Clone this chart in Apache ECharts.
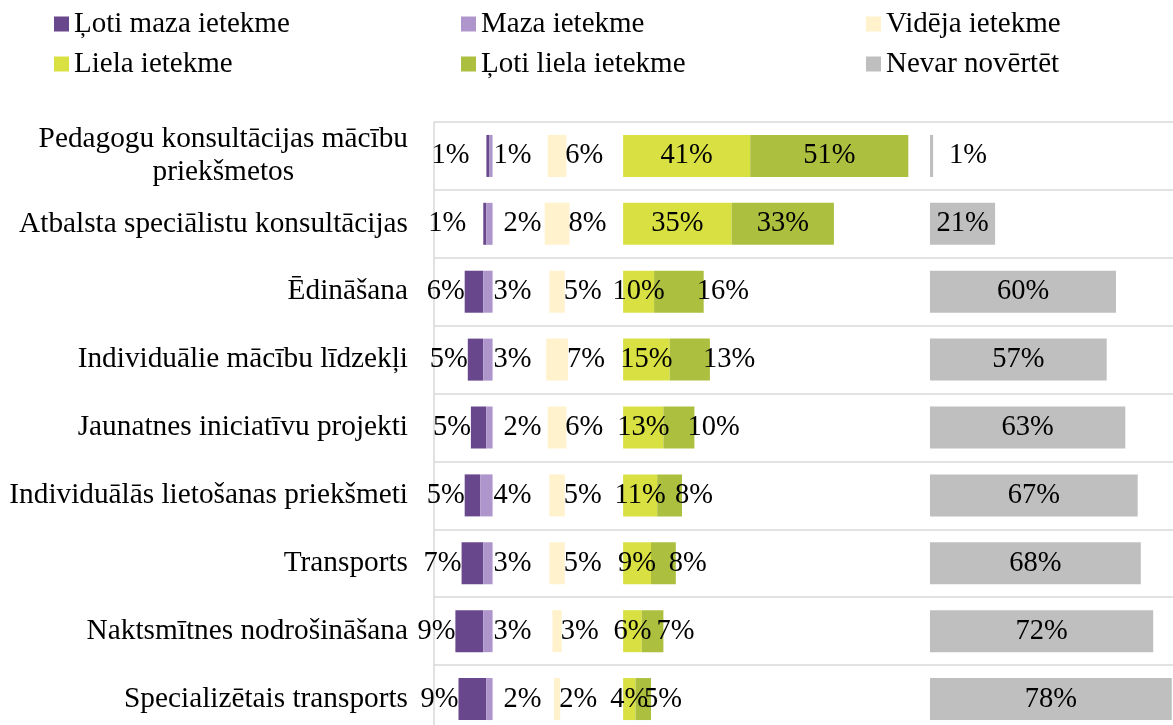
<!DOCTYPE html>
<html>
<head>
<meta charset="utf-8">
<script src="https://cdn.jsdelivr.net/npm/echarts@6/dist/echarts.min.js"></script>
<style>
  html, body { margin: 0; padding: 0; background: #fff; }
  #chart { width: 1173px; height: 725px; }
</style>
</head>
<body>
<div id="chart"></div>
<script>
// ---- Data ----
const categories = [
  'Pedagogu konsultācijas mācību\npriekšmetos',
  'Atbalsta speciālistu konsultācijas',
  'Ēdināšana',
  'Individuālie mācību līdzekļi',
  'Jaunatnes iniciatīvu projekti',
  'Individuālās lietošanas priekšmeti',
  'Transports',
  'Naktsmītnes nodrošināšana',
  'Specializētais transports'
];
const seriesNames = ['Ļoti maza ietekme', 'Maza ietekme', 'Vidēja ietekme', 'Liela ietekme', 'Ļoti liela ietekme', 'Nevar novērtēt'];
const lotiMaza  = [1, 1, 6, 5, 5, 5, 7, 9, 9];
const maza      = [1, 2, 3, 3, 2, 4, 3, 3, 2];
const videja    = [6, 8, 5, 7, 6, 5, 5, 3, 2];
const liela     = [41, 35, 10, 15, 13, 11, 9, 6, 4];
const lotiLiela = [51, 33, 16, 13, 10, 8, 8, 7, 5];
const nevar     = [1, 21, 60, 57, 63, 67, 68, 72, 78];

// ---- Layout constants (axis units = percent) ----
const NEG_END = 18.9;      // where the negative block ends
const MID = 39.7;          // centre of the neutral block
const POS_START = 61;      // where positive block starts
const NEVAR_START = 160;   // where "Nevar novērtēt" starts
const AXIS_MAX = 739 / 3.1;

const colors = ['#68478D', '#AE96CC', '#FFF2CC', '#D9E142', '#ADBF3E', '#BFBFBF'];
const FONT = '"Liberation Serif", "Times New Roman", serif';

const pad1 = lotiMaza.map((v, i) => NEG_END - v - maza[i]);
const pad2 = videja.map(v => MID - v / 2 - NEG_END);
const pad3 = videja.map(v => POS_START - MID - v / 2);
const pad4 = liela.map((v, i) => NEVAR_START - POS_START - v - lotiLiela[i]);

function padSeries(name, vals) {
  return {
    name: name, type: 'bar', stack: 'all', barWidth: 42, silent: true,
    itemStyle: { color: 'rgba(0,0,0,0)' }, label: { show: false },
    data: vals
  };
}
function dataSeries(idx, vals, rule) {
  return {
    name: seriesNames[idx], type: 'bar', stack: 'all', barWidth: 42,
    itemStyle: { color: colors[idx] },
    label: {
      show: true, formatter: '{c}%', color: '#000',
      fontFamily: FONT, fontSize: 28.5
    },
    data: vals.map(v => ({ value: v, label: rule(v) }))
  };
}

const series = [
  padSeries('_p1', pad1),
  dataSeries(0, lotiMaza, v => ({ position: 'left', distance: v <= 1 ? 17 : 0 })),
  dataSeries(1, maza, v => ({ position: 'right', distance: v === 2 ? 11 : 1 })),
  padSeries('_p2', pad2),
  dataSeries(2, videja, v => ({ position: 'right', distance: -1 })),
  padSeries('_p3', pad3),
  dataSeries(3, liela, v => ({ position: 'inside' })),
  dataSeries(4, lotiLiela, v => (v >= 20 ? { position: 'inside' } : { position: 'right', distance: -7 })),
  padSeries('_p4', pad4),
  dataSeries(5, nevar, v => (v < 5 ? { position: 'right', distance: 16 } : { position: 'inside' }))
];

function legendCol(left, names) {
  return {
    orient: 'vertical', left: left, top: 9, padding: 0,
    itemWidth: 15, itemHeight: 15, itemGap: 10, icon: 'rect',
    textStyle: { fontFamily: FONT, fontSize: 29, color: '#000', lineHeight: 30 },
    data: names
  };
}

const option = {
  animation: false,
  backgroundColor: '#fff',
  legend: [
    legendCol(54, [seriesNames[0], seriesNames[3]]),
    legendCol(461, [seriesNames[1], seriesNames[4]]),
    legendCol(866, [seriesNames[2], seriesNames[5]])
  ],
  grid: { left: 434, top: 122, width: 739, height: 611, containLabel: false, outerBoundsMode: 'none' },
  xAxis: { type: 'value', min: 0, max: AXIS_MAX, show: false },
  yAxis: {
    type: 'category', data: categories, inverse: true,
    axisLine: { show: true, lineStyle: { color: '#D9D9D9', width: 1.5 } },
    axisTick: { show: false },
    splitLine: { show: true, lineStyle: { color: '#D9D9D9', width: 1.5 } },
    axisLabel: {
      margin: 26, align: 'right',
      formatter: v => v.split('\n').map(s => '{c|' + s + '}').join('\n'),
      rich: { c: { fontFamily: FONT, fontSize: 29.3, color: '#000', align: 'center', lineHeight: 33 } }
    }
  },
  series: series
};

const chart = echarts.init(document.getElementById('chart'), null, { renderer: 'canvas' });
chart.setOption(option);
</script>
</body>
</html>
